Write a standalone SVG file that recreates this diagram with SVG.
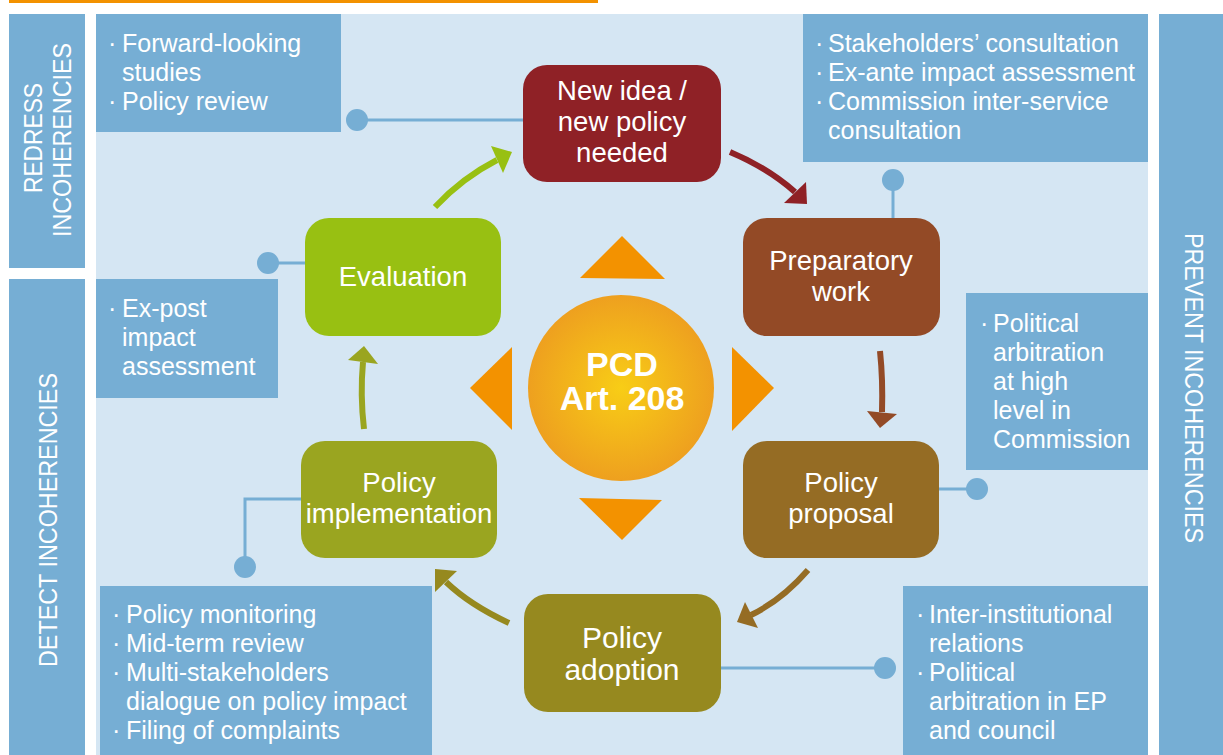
<svg xmlns="http://www.w3.org/2000/svg" width="1223" height="755" viewBox="0 0 1223 755">
<defs>
<radialGradient id="sun" cx="0.5" cy="0.5" r="0.5">
<stop offset="0" stop-color="#f8cd16"/>
<stop offset="1" stop-color="#eea01f"/>
</radialGradient>
<style>
.side{fill:#76aed4}
.box{fill:#76aed4}
.bt{font-family:"Liberation Sans",Arial,sans-serif;font-size:25px;fill:#fff}
.st{font-family:"Liberation Sans",Arial,sans-serif;font-size:25px;fill:#fff}
.nt{font-family:"Liberation Sans",Arial,sans-serif;font-size:27.5px;fill:#fff;text-anchor:middle}
.con{stroke:#76aed4;stroke-width:3;fill:none}
.dot{fill:#76aed4}
.arr{fill:none;stroke-width:6}
.tri{fill:#f39200}
</style>
</defs>
<rect x="0" y="0" width="1223" height="755" fill="#fff"/>
<rect x="9" y="0" width="589" height="3" fill="#f39200"/>
<rect x="96" y="14" width="1052" height="741" fill="#d5e6f3"/>

<g id="sidebar-redress">
<rect class="side" x="9" y="14" width="76" height="254"/>
<text class="st" transform="translate(42,193) rotate(-90)" textLength="110" lengthAdjust="spacingAndGlyphs">REDRESS</text>
<text class="st" transform="translate(71,237) rotate(-90)" textLength="194" lengthAdjust="spacingAndGlyphs">INCOHERENCIES</text>
</g>
<g id="sidebar-detect">
<rect class="side" x="9" y="279" width="76" height="476"/>
<text class="st" transform="translate(57,667) rotate(-90)" textLength="294" lengthAdjust="spacingAndGlyphs">DETECT INCOHERENCIES</text>
</g>
<g id="sidebar-prevent">
<rect class="side" x="1159" y="14" width="64" height="741"/>
<text class="st" transform="translate(1185,233) rotate(90)" textLength="310" lengthAdjust="spacingAndGlyphs">PREVENT INCOHERENCIES</text>
</g>

<g id="connectors">
<line class="con" x1="357" y1="120" x2="525" y2="120"/>
<circle class="dot" cx="357" cy="120" r="11"/>
<line class="con" x1="893" y1="180" x2="893" y2="220"/>
<circle class="dot" cx="893" cy="180" r="11"/>
<line class="con" x1="268" y1="263" x2="307" y2="263"/>
<circle class="dot" cx="268" cy="263" r="11"/>
<line class="con" x1="937" y1="489" x2="977" y2="489"/>
<circle class="dot" cx="977" cy="489" r="11"/>
<line class="con" x1="719" y1="668" x2="885" y2="668"/>
<circle class="dot" cx="885" cy="668" r="11"/>
<polyline class="con" points="303,499 245,499 245,567"/>
<circle class="dot" cx="245" cy="567" r="11"/>

<path class="arr" stroke="#98c012" d="M435,207 Q462,178 497,160"/>
<polygon fill="#98c012" points="512,152 491,146 503,173"/>
<path class="arr" stroke="#8f2126" d="M730,152 Q768,168 795,192"/>
<polygon fill="#8f2126" points="807,204 806,182 784,203"/>
<path class="arr" stroke="#934a26" d="M880,351 Q883,380 882,412"/>
<polygon fill="#934a26" points="880,428 867,411 897,414"/>
<path class="arr" stroke="#956c24" d="M808,570 Q782,600 751,615"/>
<polygon fill="#956c24" points="737,622 745,602 758,628"/>
<path class="arr" stroke="#96891f" d="M509,623 Q470,605 446,582"/>
<polygon fill="#96891f" points="435,569 457,571 435,592"/>
<path class="arr" stroke="#9aa520" d="M364,429 Q360,395 363,362"/>
<polygon fill="#9aa520" points="364,346 348,360 378,364"/>
</g>

<g id="box-redress">
<rect class="box" x="96" y="14" width="245" height="118"/>
<text class="bt"><tspan x="108" y="52">·</tspan><tspan x="122" y="52">Forward-looking</tspan><tspan x="122" y="81">studies</tspan><tspan x="108" y="110">·</tspan><tspan x="122" y="110">Policy review</tspan></text>
</g>
<g id="box-prep">
<rect class="box" x="803" y="14" width="345" height="148"/>
<text class="bt"><tspan x="815" y="52">·</tspan><tspan x="828" y="52">Stakeholders’ consultation</tspan><tspan x="815" y="81">·</tspan><tspan x="828" y="81">Ex-ante impact assessment</tspan><tspan x="815" y="110">·</tspan><tspan x="828" y="110">Commission inter-service</tspan><tspan x="828" y="139">consultation</tspan></text>
</g>
<g id="box-expost">
<rect class="box" x="96" y="279" width="182" height="119"/>
<text class="bt"><tspan x="108" y="317">·</tspan><tspan x="122" y="317">Ex-post</tspan><tspan x="122" y="346">impact</tspan><tspan x="122" y="375">assessment</tspan></text>
</g>
<g id="box-arbitration">
<rect class="box" x="966" y="293" width="182" height="177"/>
<text class="bt"><tspan x="980" y="332">·</tspan><tspan x="993" y="332">Political</tspan><tspan x="993" y="361">arbitration</tspan><tspan x="993" y="390">at high</tspan><tspan x="993" y="419">level in</tspan><tspan x="993" y="448">Commission</tspan></text>
</g>
<g id="box-monitor">
<rect class="box" x="100" y="586" width="332" height="169"/>
<text class="bt"><tspan x="112" y="623">·</tspan><tspan x="126" y="623">Policy monitoring</tspan><tspan x="112" y="652">·</tspan><tspan x="126" y="652">Mid-term review</tspan><tspan x="112" y="681">·</tspan><tspan x="126" y="681">Multi-stakeholders</tspan><tspan x="126" y="710">dialogue on policy impact</tspan><tspan x="112" y="739">·</tspan><tspan x="126" y="739">Filing of complaints</tspan></text>
</g>
<g id="box-inter">
<rect class="box" x="903" y="586" width="245" height="169"/>
<text class="bt"><tspan x="916" y="623">·</tspan><tspan x="929" y="623">Inter-institutional</tspan><tspan x="929" y="652">relations</tspan><tspan x="916" y="681">·</tspan><tspan x="929" y="681">Political</tspan><tspan x="929" y="710">arbitration in EP</tspan><tspan x="929" y="739">and council</tspan></text>
</g>

<g id="node-newidea">
<rect x="523" y="65" width="198" height="117" rx="24" fill="#8f2126"/>
<text class="nt"><tspan x="622" y="100">New idea /</tspan><tspan x="622" y="131">new policy</tspan><tspan x="622" y="162">needed</tspan></text>
</g>
<g id="node-preparatory">
<rect x="743" y="218" width="197" height="118" rx="24" fill="#934a26"/>
<text class="nt"><tspan x="841" y="270">Preparatory</tspan><tspan x="841" y="301">work</tspan></text>
</g>
<g id="node-proposal">
<rect x="743" y="441" width="196" height="117" rx="24" fill="#956c24"/>
<text class="nt"><tspan x="841" y="492">Policy</tspan><tspan x="841" y="523">proposal</tspan></text>
</g>
<g id="node-adoption">
<rect x="524" y="594" width="197" height="118" rx="24" fill="#96891f"/>
<text class="nt" style="font-size:30px"><tspan x="622" y="648">Policy</tspan><tspan x="622" y="680">adoption</tspan></text>
</g>
<g id="node-implementation">
<rect x="301" y="441" width="196" height="117" rx="24" fill="#9aa520"/>
<text class="nt"><tspan x="399" y="492">Policy</tspan><tspan x="399" y="523">implementation</tspan></text>
</g>
<g id="node-evaluation">
<rect x="305" y="218" width="196" height="118" rx="24" fill="#98c012"/>
<text class="nt"><tspan x="403" y="286">Evaluation</tspan></text>
</g>

<g id="center-pcd">
<polygon class="tri" points="622,236 580,278 665,279"/>
<polygon class="tri" points="579,498 662,500 622,540"/>
<polygon class="tri" points="470,388 512,347 512,430"/>
<polygon class="tri" points="732,347 774,388 732,431"/>
<circle cx="621" cy="388" r="93" fill="url(#sun)"/>
<text class="nt" style="font-size:34px;font-weight:bold"><tspan x="622" y="376">PCD</tspan><tspan x="622" y="410">Art. 208</tspan></text>
</g>
</svg>
